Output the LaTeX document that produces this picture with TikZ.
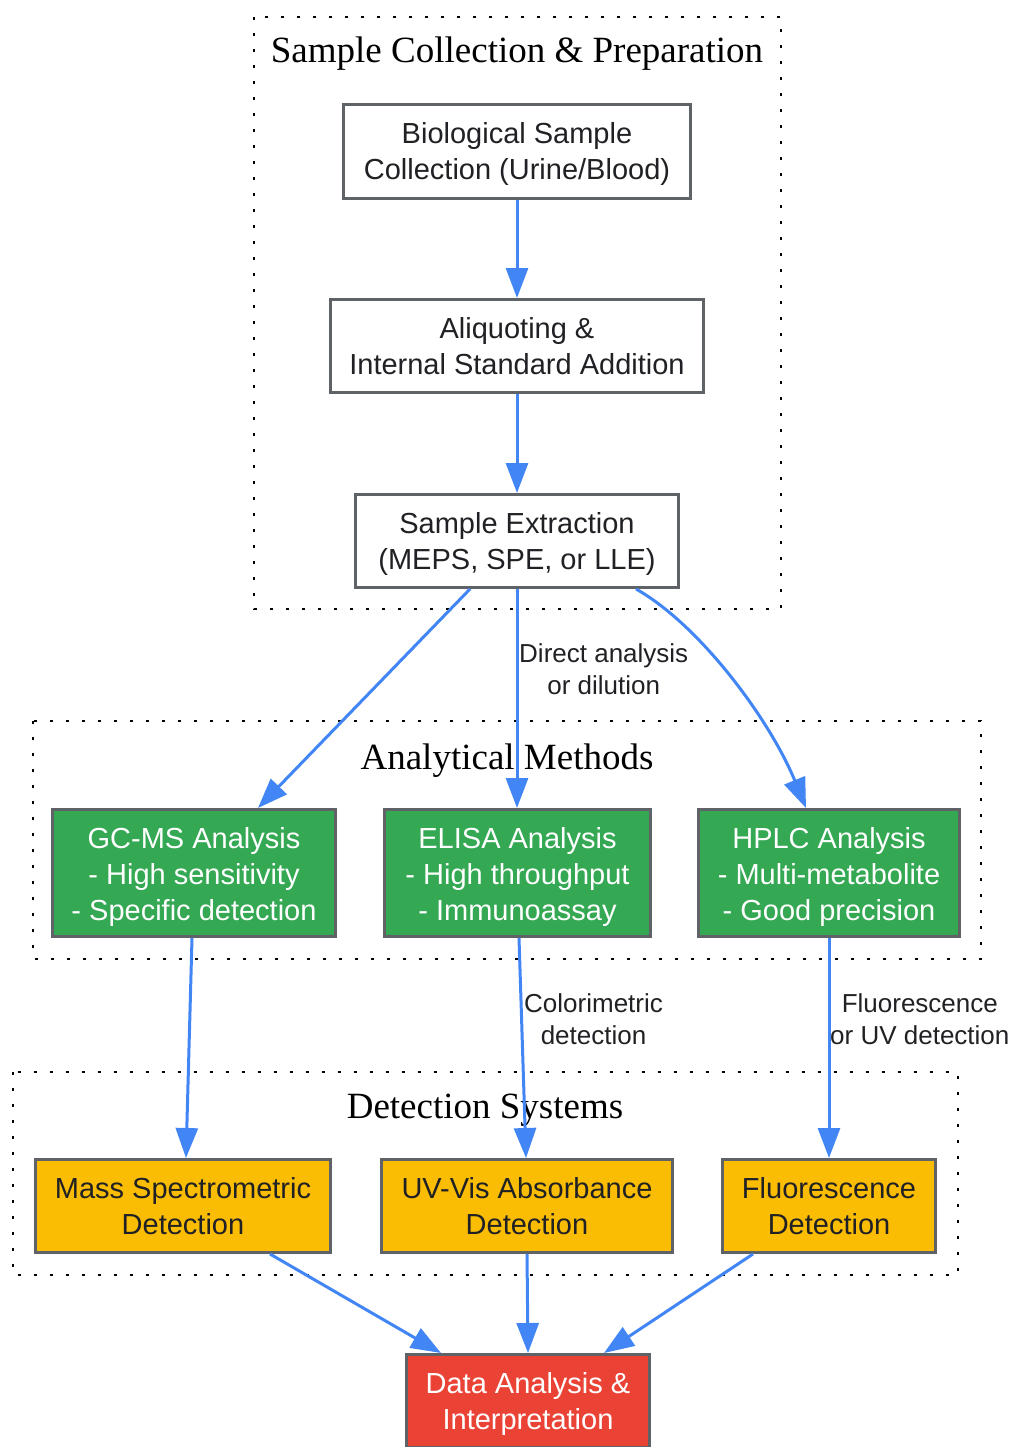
\documentclass[tikz,border=0pt]{standalone}
\usepackage{fontspec}
\setmainfont{Liberation Serif}
\newfontfamily\arialf{Liberation Sans}
\usetikzlibrary{arrows.meta}
\definecolor{bordc}{HTML}{5F6368}
\definecolor{txtc}{HTML}{202124}
\definecolor{arrowc}{HTML}{4285F4}
\definecolor{greenc}{HTML}{34A853}
\definecolor{yellowc}{HTML}{FBBC04}
\definecolor{redc}{HTML}{EA4335}
\begin{document}
\begin{tikzpicture}[x=1pt,y=-1pt,
  box/.style={draw=bordc, line width=3pt, inner sep=0pt, align=center,
    font=\arialf\fontsize{29}{36}\selectfont, text=txtc},
  twoline/.style={text height=63pt, text depth=6pt},
  threeline/.style={text height=99pt, text depth=4pt},
  whitebox/.style={box, twoline, fill=white},
  greenbox/.style={box, threeline, fill=greenc, text=white},
  yellowbox/.style={box, twoline, fill=yellowc},
  redbox/.style={box, twoline, fill=redc, text=white},
  conn/.style={draw=arrowc, line width=3pt, -{Triangle[length=30pt,width=22pt]}},
  cluster/.style={draw=black, line width=2.6pt, dash pattern=on 2.6pt off 13.4pt},
  ctitle/.style={font=\fontsize{37}{44}\selectfont, anchor=base, inner sep=0pt},
  elabel/.style={font=\arialf\fontsize{26}{32}\selectfont, align=center, text=txtc, inner sep=0pt, anchor=west}]
\useasboundingbox (0,0) rectangle (1014,1447);

% clusters
\draw[cluster] (254,17) rectangle (781,609);
\draw[cluster] (33,721) rectangle (981,959);
\draw[cluster] (13,1072) rectangle (958,1275);
\node[ctitle] (t1) at (517,63) {Sample Collection \& Preparation};
\node[ctitle] (t2) at (507,769) {Analytical Methods};
\node[ctitle] (t3) at (485,1118) {Detection Systems};

% nodes
\node[whitebox, minimum width=347pt, minimum height=94pt] (bio) at (517,151.5) {Biological Sample\\Collection (Urine/Blood)};
\node[whitebox, minimum width=373pt, minimum height=93pt] (aliq) at (517,346) {Aliquoting \&\\Internal Standard Addition};
\node[whitebox, minimum width=323pt, minimum height=93pt] (extr) at (517,541) {Sample Extraction\\(MEPS, SPE, or LLE)};
\node[greenbox, minimum width=283pt, minimum height=127pt] (gcms) at (194,873) {GC-MS Analysis\\- High sensitivity\\- Specific detection};
\node[greenbox, minimum width=266pt, minimum height=127pt] (elisa) at (517.5,873) {ELISA Analysis\\- High throughput\\- Immunoassay};
\node[greenbox, minimum width=261pt, minimum height=127pt] (hplc) at (829,873) {HPLC Analysis\\- Multi-metabolite\\- Good precision};
\node[yellowbox, minimum width=295pt, minimum height=93pt] (ms) at (183,1206) {Mass Spectrometric\\Detection};
\node[yellowbox, minimum width=291pt, minimum height=93pt] (uv) at (527,1206) {UV-Vis Absorbance\\Detection};
\node[yellowbox, minimum width=213pt, minimum height=93pt] (fl) at (829,1206) {Fluorescence\\Detection};
\node[redbox, minimum width=243pt, minimum height=93pt] (data) at (528,1401) {Data Analysis \&\\Interpretation};

% connectors
\draw[conn] (bio.south) -- (aliq.north);
\draw[conn] (aliq.south) -- (extr.north);
\draw[conn] ([xshift=-47pt]extr.south) -- ([xshift=64pt]gcms.north);
\draw[conn] (extr.south) -- ([xshift=-0.5pt]elisa.north);
\draw[conn] ([xshift=119pt]extr.south) .. controls (700,625) and (770,720) .. ([xshift=-23pt]hplc.north);
\draw[conn] ([xshift=-2pt]gcms.south) -- ([xshift=3pt]ms.north);
\draw[conn] ([xshift=1.5pt]elisa.south) -- ([xshift=-1pt]uv.north);
\draw[conn] (hplc.south) -- (fl.north);
\draw[conn] ([xshift=87pt]ms.south) -- ([xshift=-87pt]data.north);
\draw[conn] (uv.south) -- (data.north);
\draw[conn] ([xshift=-76pt]fl.south) -- ([xshift=76pt]data.north);

% edge labels
\node[elabel] (l1) at (519,669) {Direct analysis\\or dilution};
\node[elabel] (l2) at (524,1019) {Colorimetric\\detection};
\node[elabel] (l3) at (830,1019) {Fluorescence\\or UV detection};
\end{tikzpicture}
\end{document}
